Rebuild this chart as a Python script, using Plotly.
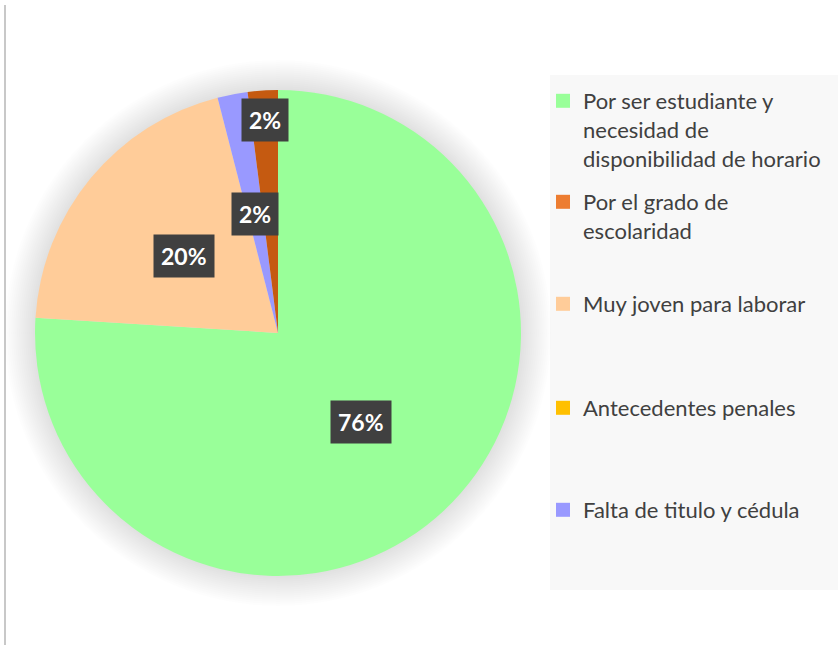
import math
import plotly.graph_objects as go

# ---- data ----
legend_labels = [
    "Por ser estudiante y<br>necesidad de<br>disponibilidad de horario",
    "Por el grado de<br>escolaridad",
    "Muy joven para laborar",
    "Antecedentes penales",
    "Falta de titulo y cédula",
]
legend_colors = ["#99ff99", "#ed7d31", "#ffcc99", "#ffc000", "#9999ff"]

# slices in drawing order (clockwise from 12 o'clock)
slice_labels = ["Por ser estudiante y necesidad de disponibilidad de horario",
                "Muy joven para laborar",
                "Falta de titulo y cédula",
                "Por el grado de escolaridad"]
slice_values = [76, 20, 2, 2]
slice_colors = ["#99ff99", "#ffcc99", "#9999ff", "#c55a11"]
label_radius = [0.5, 0.5, 0.5, 0.88]

W, H = 838, 655
FONT = "Lato, 'Open Sans', sans-serif"

# pie geometry (pixels)
cx, cy, R = 278, 333, 243


def dom(r):
    return dict(x=[(cx - r) / W, (cx + r) / W], y=[1 - (cy + r) / H, 1 - (cy - r) / H])


fig = go.Figure()

# soft glow/shadow around the pie
for k in range(1, 16):
    fig.add_trace(go.Pie(
        values=[1], labels=["shadow"], sort=False, textinfo="none",
        hoverinfo="skip", showlegend=False,
        marker=dict(colors=["rgba(0,0,0,0.0075)"], line=dict(width=0)),
        domain=dom(R + 2 * k),
    ))

fig.add_trace(go.Pie(
    labels=slice_labels, values=slice_values, sort=False,
    direction="clockwise", rotation=0,
    marker=dict(colors=slice_colors, line=dict(width=0)),
    textinfo="none", hoverinfo="label+percent", showlegend=False,
    domain=dom(R),
))

# percentage labels placed at slice mid-angles
total = sum(slice_values)
cum = 0
annotations = []
for v, rf in zip(slice_values, label_radius):
    mid = (cum + v / 2) / total * 2 * math.pi
    cum += v
    px = cx + R * rf * math.sin(mid)
    py = cy - R * rf * math.cos(mid)
    annotations.append(dict(
        x=px / W, y=1 - py / H, xref="paper", yref="paper",
        xanchor="center", yanchor="middle",
        text="<b>%d%%</b>" % round(v / total * 100), showarrow=False,
        font=dict(family=FONT, size=23, color="white"),
        bgcolor="#404040", borderpad=7,
    ))

# legend entries (separate legends for Excel-like even spacing)
legend_tops = [80, 181, 283, 387, 489]
for i, (lab, col) in enumerate(zip(legend_labels, legend_colors)):
    lname = "legend" if i == 0 else "legend%d" % (i + 1)
    fig.add_trace(go.Scatter(
        x=[None], y=[None], mode="markers", name=lab,
        marker=dict(symbol="square", size=14, color=col),
        legend=lname, showlegend=True,
    ))
    fig.update_layout({lname: dict(
        x=543 / W, y=1 - legend_tops[i] / H, xanchor="left", yanchor="top",
        bgcolor="rgba(0,0,0,0)", valign="top",
        font=dict(family=FONT, size=22, color="#404040"),
    )})

fig.update_layout(
    width=W, height=H, margin=dict(l=0, r=0, t=0, b=0),
    paper_bgcolor="white", plot_bgcolor="white",
    xaxis=dict(visible=False, domain=[0.99, 1]), yaxis=dict(visible=False, domain=[0.99, 1]),
    annotations=annotations,
    shapes=[
        dict(type="rect", xref="paper", yref="paper",
             x0=550 / W, x1=1, y0=1 - 590 / H, y1=1 - 75 / H,
             fillcolor="#f8f8f8", line=dict(width=0), layer="below"),
        dict(type="line", xref="paper", yref="paper",
             x0=5 / W, x1=5 / W, y0=1 - 645 / H, y1=1 - 5 / H,
             line=dict(color="#c8c8c8", width=2)),
    ],
)

fig.write_html("out.html", config={"displayModeBar": False},
               post_script="document.body.style.margin='0';")
